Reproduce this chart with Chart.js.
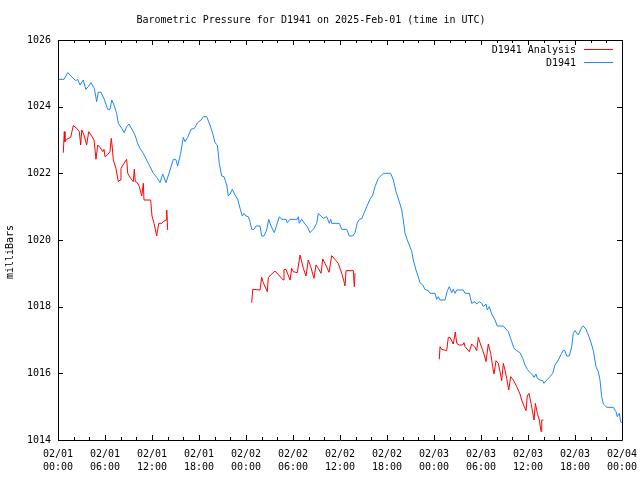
<!DOCTYPE html>
<html>
<head>
<meta charset="utf-8">
<script src="https://cdn.jsdelivr.net/npm/chart.js@4.4.1/dist/chart.umd.min.js"></script>
<style>
  html, body { margin: 0; padding: 0; background: #fff; }
  #wrap { width: 640px; height: 480px; }
</style>
</head>
<body>
<div id="wrap"><canvas id="pressureChart" width="640" height="480"></canvas></div>
<script>
// --- DATA (hours since 2025-02-01 00:00 UTC, pressure in millibars) ---
const stationHours = [
    0, 0.26, 0.77, 1.24, 1.66, 1.95, 2.26, 2.51, 2.81, 3.23,
    3.54, 3.87, 4.21, 4.63, 4.94, 5.14, 5.49, 5.91, 6.34, 6.64,
    6.86, 7.15, 7.49, 7.70, 8.13, 8.46, 8.77, 9.06, 9.49, 9.83,
    10.17, 10.47, 10.89, 11.53, 12.17, 12.60, 13.02, 13.37, 13.79, 14.30,
    14.72, 15.03, 15.28, 15.66, 16.0, 16.21, 16.56, 16.98, 17.40, 17.83,
    18.26, 18.55, 18.98, 19.40, 19.75, 20.04, 20.34, 20.59, 20.90, 21.19,
    21.54, 21.74, 21.96, 22.25, 22.60, 22.94, 23.24, 23.53, 23.75, 24.0,
    24.29, 24.51, 24.73, 25.02, 25.28, 25.79, 26.0, 26.30, 26.64, 26.90,
    27.19, 27.61, 27.92, 28.25, 28.56, 29.11, 29.27, 29.62, 30.55, 30.68,
    30.80, 31.11, 31.53, 31.83, 32.17, 32.59, 33.03, 33.23, 33.54, 33.87,
    34.30, 34.64, 34.81, 34.94, 35.91, 36.22, 36.86, 37.19, 37.62, 37.92,
    38.21, 38.47, 38.77, 39.06, 39.41, 39.83, 40.18, 40.47, 40.89, 41.53,
    42.47, 42.81, 43.15, 43.57, 43.88, 44.08, 44.30, 44.59, 44.85, 45.16,
    45.36, 45.70, 45.92, 46.21, 46.56, 46.85, 47.27, 47.49, 48.13, 48.34,
    48.55, 48.77, 49.41, 49.70, 49.95, 50.26, 50.46, 50.68, 50.90, 51.74,
    51.96, 52.51, 52.81, 53.23, 53.45, 53.78, 54.09, 54.29, 54.64, 54.80,
    55.06, 55.37, 55.79, 56.08, 56.85, 57.49, 57.92, 58.21, 58.56, 58.98,
    59.32, 59.62, 59.91, 60.26, 60.60, 60.77, 61.02, 61.19, 61.53, 61.88,
    62.04, 62.39, 62.81, 63.15, 63.45, 63.87, 64.30, 64.51, 64.72, 64.94,
    65.27, 65.58, 65.78, 66.0, 66.42, 66.85, 67.06, 67.41, 67.70, 68.01,
    68.34, 68.68, 68.98, 69.19, 69.41, 69.62, 70.05, 70.89, 71.23, 71.40,
    71.66, 71.83, 72.0
];
const stationValues = [
    1024.82, 1024.82, 1024.82, 1025.02, 1024.92, 1024.85, 1024.78, 1024.82, 1024.65, 1024.8,
    1024.52, 1024.6, 1024.72, 1024.55, 1024.15, 1024.43, 1024.43, 1024.22, 1023.92, 1023.92,
    1024.2, 1024.05, 1023.8, 1023.5, 1023.35, 1023.22, 1023.4, 1023.48, 1023.3, 1023.15,
    1022.9, 1022.75, 1022.6, 1022.3, 1022.0, 1021.88, 1021.72, 1021.98, 1021.72, 1022.1,
    1022.42, 1022.42, 1022.22, 1022.6, 1023.08, 1022.95, 1023.08, 1023.32, 1023.35, 1023.52,
    1023.6, 1023.7, 1023.7, 1023.45, 1023.2, 1022.92, 1022.85, 1022.3, 1021.92, 1021.9,
    1021.65, 1021.32, 1021.38, 1021.52, 1021.35, 1021.22, 1020.95, 1020.72, 1020.8, 1020.72,
    1020.7, 1020.55, 1020.32, 1020.32, 1020.42, 1020.42, 1020.12, 1020.12, 1020.3, 1020.62,
    1020.42, 1020.22, 1020.45, 1020.7, 1020.62, 1020.62, 1020.52, 1020.62, 1020.62, 1020.7,
    1020.5, 1020.62, 1020.48, 1020.4, 1020.22, 1020.32, 1020.5, 1020.8, 1020.72, 1020.65,
    1020.7, 1020.5, 1020.62, 1020.5, 1020.5, 1020.32, 1020.32, 1020.12, 1020.12, 1020.22,
    1020.52, 1020.62, 1020.64, 1020.8, 1021.0, 1021.22, 1021.35, 1021.6, 1021.85, 1022.0,
    1022.0, 1021.8, 1021.45, 1021.15, 1020.9, 1020.6, 1020.2, 1020.0, 1019.85, 1019.65,
    1019.4, 1019.1, 1018.95, 1018.72, 1018.65, 1018.52, 1018.48, 1018.4, 1018.4, 1018.22,
    1018.3, 1018.2, 1018.2, 1018.48, 1018.6, 1018.42, 1018.52, 1018.4, 1018.5, 1018.5,
    1018.4, 1018.4, 1018.1, 1018.15, 1018.08, 1018.15, 1018.1, 1018.0, 1018.08, 1017.9,
    1018.0, 1017.78, 1017.6, 1017.42, 1017.42, 1017.25, 1016.95, 1016.75, 1016.68, 1016.62,
    1016.45, 1016.25, 1016.12, 1016.02, 1015.95, 1015.88, 1015.98, 1015.85, 1015.8, 1015.78,
    1015.7, 1015.8, 1015.9, 1016.0, 1016.25, 1016.4, 1016.6, 1016.7, 1016.68, 1016.52,
    1016.52, 1016.8, 1017.2, 1017.28, 1017.15, 1017.38, 1017.42, 1017.32, 1017.15, 1016.95,
    1016.68, 1016.2, 1016.05, 1015.8, 1015.3, 1015.08, 1014.98, 1014.98, 1014.85, 1014.7,
    1014.8, 1014.55, 1014.5
];

// Analysis runs (three separate stretches; null marks the gap between them)
const analysisHours = [
    0.68, 0.80, 0.89, 1.11, 1.62, 1.95, 2.39, 2.72, 2.90, 3.03,
    3.32, 3.66, 3.92, 4.30, 4.60, 4.85, 5.07, 5.36, 5.71, 5.87,
    6.0, 6.29, 6.64, 6.80, 6.93, 7.06, 7.40, 7.70, 7.92, 8.04,
    8.43, 8.77, 8.90, 9.28, 9.61, 9.74, 9.87, 10.12, 10.38, 10.69,
    10.89, 10.98, 11.83, 12.0, 12.26, 12.60, 12.86, 13.24, 13.44, 13.79,
    13.88, 14.0,
    19.0,
    24.73, 24.86, 25.79, 26.0, 26.21, 26.72, 26.85, 27.70, 28.76, 28.85,
    29.11, 29.62, 29.83, 30.04, 30.55, 30.90, 31.32, 31.66, 31.95, 32.26,
    32.68, 32.94, 33.23, 33.58, 33.79, 34.09, 34.60, 34.94, 35.49, 35.78,
    36.22, 36.51, 36.64, 36.77, 37.28, 37.70, 37.83, 37.92,
    43.0,
    48.68, 48.77, 48.98, 49.62, 49.83, 50.04, 50.46, 50.72, 50.90, 51.23,
    51.67, 51.83, 51.96, 52.51, 52.81, 53.23, 53.45, 53.66, 53.87, 54.17,
    54.42, 54.64, 54.93, 55.24, 55.49, 55.66, 55.92, 56.21, 56.43, 56.64,
    56.85, 57.06, 57.28, 57.54, 57.79, 58.13, 58.56, 58.98, 59.19, 59.49,
    59.75, 59.91, 60.13, 60.39, 60.60, 60.77, 60.94, 61.19, 61.45, 61.66,
    61.75, 61.96
];
const analysisValues = [
    1022.62, 1023.25, 1022.95, 1023.02, 1023.08, 1023.43, 1023.35, 1023.25, 1022.85, 1023.3,
    1023.15, 1022.85, 1023.25, 1023.12, 1023.0, 1022.42, 1022.85, 1022.78, 1022.65, 1022.72,
    1022.5, 1022.55, 1022.65, 1023.05, 1022.78, 1022.4, 1022.15, 1021.75, 1021.8, 1022.15,
    1022.3, 1022.42, 1022.0, 1021.85, 1021.75, 1022.12, 1021.75, 1021.72, 1021.6, 1021.32,
    1021.7, 1021.2, 1021.2, 1020.72, 1020.5, 1020.12, 1020.5, 1020.5, 1020.55, 1020.6,
    1020.9, 1020.3,
    null,
    1018.12, 1018.52, 1018.5, 1018.88, 1018.72, 1018.45, 1018.88, 1019.07, 1018.8, 1019.12,
    1019.12, 1018.8, 1019.15, 1019.05, 1019.02, 1019.55, 1019.15, 1018.92, 1019.4, 1019.2,
    1018.85, 1019.25, 1019.15, 1019.0, 1019.43, 1019.3, 1019.03, 1019.53, 1019.38, 1019.3,
    1019.0, 1018.75, 1018.62, 1019.08, 1019.08, 1019.08, 1018.6, 1019.0,
    null,
    1016.42, 1016.8, 1016.72, 1016.68, 1017.08, 1017.08, 1016.88, 1017.24, 1016.9, 1016.85,
    1016.85, 1016.92, 1016.8, 1016.65, 1016.88, 1016.78, 1016.68, 1017.08, 1016.92, 1016.72,
    1016.55, 1016.35, 1016.88, 1016.6, 1016.2, 1015.98, 1016.38, 1016.3, 1016.05, 1015.78,
    1016.3, 1016.1, 1015.85, 1015.5, 1015.9, 1015.8, 1015.6, 1015.38, 1015.2, 1015.02,
    1014.88, 1015.32, 1015.4, 1015.1, 1014.82, 1014.6, 1015.1, 1014.8, 1014.6, 1014.25,
    1014.6, 1014.6
];

// Axis tick labels (every 6 hours)
const xTickDates = ['02/01', '02/01', '02/01', '02/01', '02/02', '02/02', '02/02', '02/02', '02/03', '02/03', '02/03', '02/03', '02/04'];
const xTickTimes = ['00:00', '06:00', '12:00', '18:00', '00:00', '06:00', '12:00', '18:00', '00:00', '06:00', '12:00', '18:00', '00:00'];
const yTicks = [1014, 1016, 1018, 1020, 1022, 1024, 1026];

const seriesLabels = ['D1941 Analysis', 'D1941'];
const seriesColors = ['#ff0000', '#1a86ff'];
const yAxisLabel = 'milliBars';

const FONT = { family: "'DejaVu Sans Mono', 'Liberation Mono', monospace", size: 10, lineHeight: 1.3 };

function toPoints(hours, values) {
    return hours.map((h, i) => ({ x: h, y: values[i] }));
}

// --- gnuplot-like frame: full border, inward ticks on all four sides, key, y label ---
const framePlugin = {
    id: 'frame',
    afterDatasetsDraw(chart) {
        const { ctx, chartArea: a, scales: { x, y } } = chart;
        ctx.save();
        ctx.strokeStyle = '#000';
        ctx.lineWidth = 1;
        ctx.beginPath();
        ctx.rect(Math.round(a.left) + 0.5, Math.round(a.top) + 0.5, Math.round(a.right - a.left), Math.round(a.bottom - a.top));
        // x ticks: major every 6 h, minor every 2 h
        for (let h = 0; h <= 72; h += 2) {
            const px = Math.round(x.getPixelForValue(h)) + 0.5;
            const len = h % 6 === 0 ? 5 : 3;
            ctx.moveTo(px, a.bottom); ctx.lineTo(px, a.bottom - len);
            ctx.moveTo(px, a.top); ctx.lineTo(px, a.top + len);
        }
        yTicks.forEach(v => {
            const py = Math.round(y.getPixelForValue(v)) + 0.5;
            ctx.moveTo(a.left, py); ctx.lineTo(a.left + 5, py);
            ctx.moveTo(a.right, py); ctx.lineTo(a.right - 5, py);
        });
        ctx.stroke();

        ctx.font = `${FONT.size}px ${FONT.family}`;
        ctx.fillStyle = '#000';

        // y axis label, rotated, sitting a little below the middle like gnuplot does
        ctx.save();
        ctx.translate(10, (a.top + a.bottom) / 2 + 12);
        ctx.rotate(-Math.PI / 2);
        ctx.textAlign = 'center';
        ctx.textBaseline = 'middle';
        ctx.fillText(yAxisLabel, 0, 0);
        ctx.restore();

        // key
        ctx.textAlign = 'right';
        ctx.textBaseline = 'middle';
        chart.data.datasets.forEach((ds, i) => {
            const ty = a.top + 10 + i * 13;
            ctx.fillStyle = '#000';
            ctx.fillText(ds.label, a.right - 46, ty);
            ctx.strokeStyle = ds.borderColor;
            ctx.beginPath();
            ctx.moveTo(a.right - 38, Math.round(ty) - 0.5);
            ctx.lineTo(a.right - 9, Math.round(ty) - 0.5);
            ctx.stroke();
        });
        ctx.restore();
    }
};

Chart.defaults.color = '#000';
Chart.defaults.font.family = FONT.family;
Chart.defaults.font.size = FONT.size;

new Chart(document.getElementById('pressureChart'), {
    type: 'line',
    data: {
        datasets: [
            {
                label: seriesLabels[0],
                data: toPoints(analysisHours, analysisValues),
                borderColor: seriesColors[0],
                borderWidth: 1,
                pointRadius: 0,
                tension: 0,
                spanGaps: false
            },
            {
                label: seriesLabels[1],
                data: toPoints(stationHours, stationValues),
                borderColor: seriesColors[1],
                borderWidth: 1,
                pointRadius: 0,
                tension: 0
            }
        ]
    },
    options: {
        responsive: false,
        animation: false,
        layout: { padding: { left: 0, right: 18, top: 0, bottom: 0 } },
        plugins: {
            legend: { display: false },
            tooltip: { enabled: false },
            title: {
                display: true,
                text: 'Barometric Pressure for D1941 on 2025-Feb-01 (time in UTC)',
                color: '#000',
                font: { family: FONT.family, size: 10, weight: 'normal', lineHeight: 1.2 },
                padding: { top: 14, bottom: 14 }
            }
        },
        scales: {
            x: {
                type: 'linear',
                min: 0,
                max: 72,
                grid: { display: false, drawTicks: false },
                border: { display: false },
                ticks: {
                    stepSize: 6,
                    autoSkip: false,
                    maxRotation: 0,
                    padding: 8,
                    font: FONT,
                    callback: (v) => [xTickDates[v / 6], xTickTimes[v / 6]]
                },
                afterFit: (scale) => {
                    scale.height = 40;
                    scale.paddingLeft = 0;
                    scale.paddingRight = 0;
                }
            },
            y: {
                min: 1014,
                max: 1026,
                grid: { display: false, drawTicks: false },
                border: { display: false },
                ticks: { stepSize: 2, padding: 7, font: FONT, callback: (v) => String(v) },
                afterFit: (scale) => {
                    scale.width = 58;
                    scale.paddingTop = 0;
                    scale.paddingBottom = 0;
                }
            }
        }
    },
    plugins: [framePlugin]
});
</script>
</body>
</html>
